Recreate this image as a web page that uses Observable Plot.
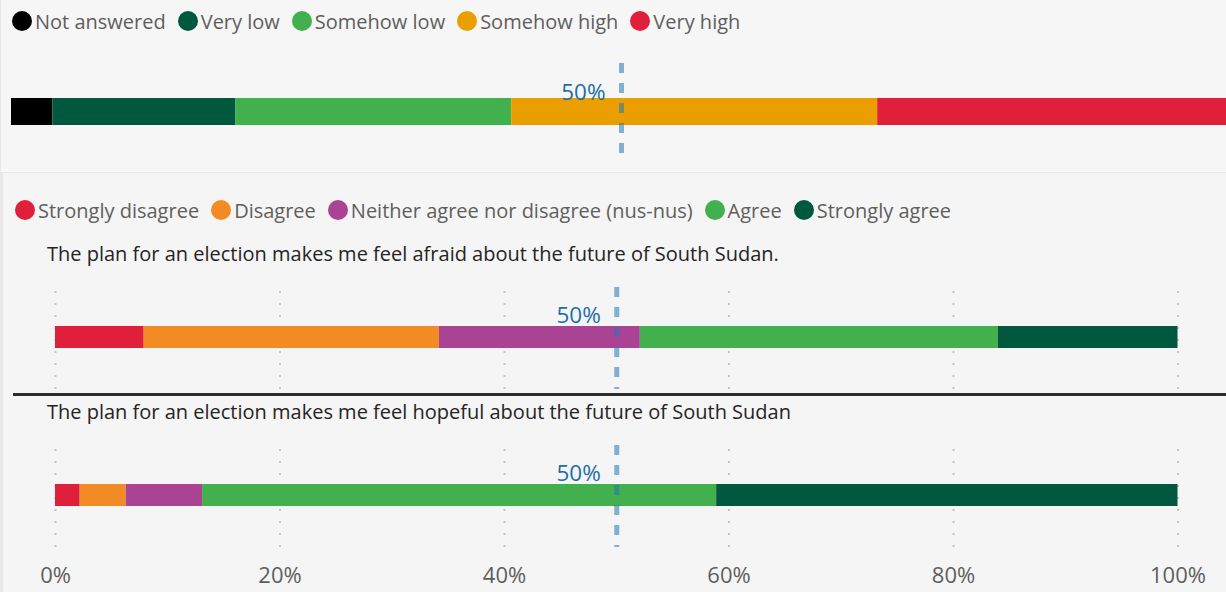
<!DOCTYPE html>
<html><head><meta charset="utf-8">
<script src="https://cdn.jsdelivr.net/npm/d3@7"></script>
<script src="https://cdn.jsdelivr.net/npm/@observablehq/plot@0.6"></script>
<style>
html,body{margin:0;padding:0}
body{width:1226px;height:592px;overflow:hidden;background:#e8e8e8;font-family:"Open Sans",sans-serif;position:relative}
.panel{position:absolute}
#p1{left:1px;top:0;width:1225px;height:171px;background:#f6f6f6;border-bottom:1px solid #fbfbfb}
#p2{left:3px;top:173px;width:1223px;height:419px;background:#f5f5f5}
.legend{position:absolute;display:flex;align-items:center;height:30px;font-size:20px;color:#605e5c;white-space:nowrap}
.sw{width:20px;height:20px;border-radius:50%;display:inline-block;margin-right:3px;flex:none}
.item{display:flex;align-items:center;margin-right:12px}
.title{position:absolute;left:47px;height:26px;line-height:26px;font-size:20px;color:#252423;white-space:nowrap}
.chart{position:absolute;left:0}
.chart svg{display:block;overflow:hidden}
#sep{position:absolute;left:13px;top:393px;width:1213px;height:3px;background:#2d2d2d}
</style></head><body>
<div id="p1" class="panel"></div>
<div id="p2" class="panel"></div>
<div id="leg1" class="legend" style="left:12px;top:6px"></div>
<div id="leg2" class="legend" style="left:15px;top:195px"></div>
<div id="t1" class="title" style="top:241px"></div>
<div id="t2" class="title" style="top:399px"></div>
<div id="sep"></div>
<div id="c1" class="chart" style="top:50px"></div>
<div id="c2" class="chart" style="top:285px"></div>
<div id="c3" class="chart" style="top:443px"></div>
<script>
// ---- data ----
const levelCategories = ["Not answered", "Very low", "Somehow low", "Somehow high", "Very high"];
const levelColors = ["#000000", "#00583f", "#42b04c", "#eb9e00", "#e01f3a"];
const levelValues = [3.4, 15.0, 22.6, 30.0, 29.0];

const agreeCategories = ["Strongly disagree", "Disagree", "Neither agree nor disagree (nus-nus)", "Agree", "Strongly agree"];
const agreeColors = ["#e01f3a", "#f28b24", "#ab4394", "#42b04c", "#00583f"];
const statements = [
  "The plan for an election makes me feel afraid about the future of South Sudan.",
  "The plan for an election makes me feel hopeful about the future of South Sudan"
];
const afraidValues = [7.9, 26.3, 17.9, 31.9, 16.0];
const hopefulValues = [2.2, 4.1, 6.8, 45.8, 41.1];

const xTicks = [0, 20, 40, 60, 80, 100];
const referenceValue = [50];

// ---- helpers ----
function legend(el, cats, colors) {
  const root = document.getElementById(el);
  cats.forEach((c, i) => {
    const it = document.createElement("div");
    it.className = "item";
    const sw = document.createElement("span");
    sw.className = "sw";
    sw.style.background = colors[i];
    const tx = document.createElement("span");
    tx.textContent = c;
    it.appendChild(sw); it.appendChild(tx);
    root.appendChild(it);
  });
}
legend("leg1", levelCategories, levelColors);
legend("leg2", agreeCategories, agreeColors);
document.getElementById("t1").textContent = statements[0];
document.getElementById("t2").textContent = statements[1];

function rows(cats, vals) { return cats.map((c, i) => ({category: c, value: vals[i]})); }

function stackedBar({cats, colors, vals, height, mt, mb, range, insetTop, insetBottom, grid, axis, labelDy}) {
  const marks = [];
  if (grid) marks.push(Plot.ruleX(xTicks, {stroke: "#c4c4c4", strokeWidth: 2, strokeDasharray: "2,10", insetTop: 4, insetBottom: 0}));
  marks.push(Plot.barX(rows(cats, vals), Plot.stackX({x: "value", fill: "category", order: null, insetTop, insetBottom})));
  marks.push(Plot.ruleX(referenceValue, {stroke: "#1f77b4", strokeOpacity: 0.55, strokeWidth: 5, strokeDasharray: "10,10"}));
  marks.push(Plot.text(referenceValue, {x: d => d, text: d => d + "%", textAnchor: "end", dx: -16, dy: labelDy, fill: "#1d6fa5", fontSize: 22.5}));
  return Plot.plot({
    width: 1226,
    height,
    marginTop: mt,
    marginBottom: mb,
    marginLeft: 0,
    marginRight: 0,
    style: {background: "transparent", fontFamily: "Open Sans, sans-serif", fontSize: "22px", color: "#605e5c", overflow: "hidden"},
    x: {domain: [0, 100], range, axis: axis ? "bottom" : null, ticks: xTicks, tickSize: 0, tickPadding: 20, tickFormat: d => d + "%", label: null},
    color: {domain: cats, range: colors},
    marks
  });
}

document.getElementById("c1").appendChild(stackedBar({
  cats: levelCategories, colors: levelColors, vals: levelValues,
  height: 110, mt: 13, mb: 7, range: [11, 1231], insetTop: 35, insetBottom: 28, grid: false, axis: false, labelDy: -16
}));
document.getElementById("c2").appendChild(stackedBar({
  cats: agreeCategories, colors: agreeColors, vals: afraidValues,
  height: 106, mt: 2, mb: 2, range: [55, 1177.5], insetTop: 39, insetBottom: 41, grid: true, axis: false, labelDy: -22.5
}));
document.getElementById("c3").appendChild(stackedBar({
  cats: agreeCategories, colors: agreeColors, vals: hopefulValues,
  height: 150, mt: 2, mb: 46, range: [55, 1177.5], insetTop: 39, insetBottom: 41, grid: true, axis: true, labelDy: -22.5
}));
</script>
</body></html>
